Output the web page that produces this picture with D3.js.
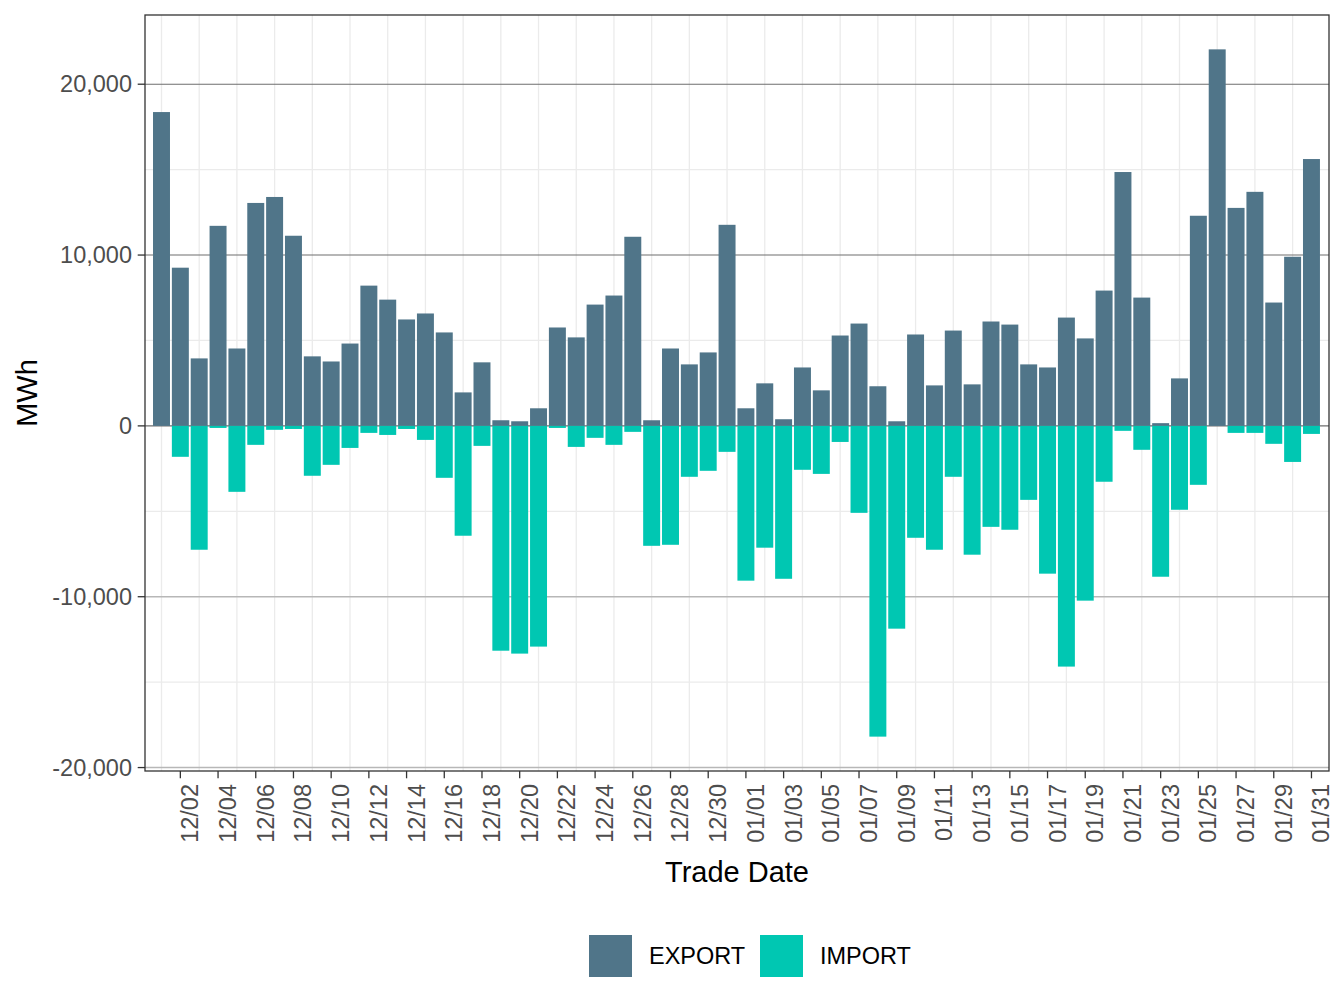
<!DOCTYPE html>
<html>
<head>
<meta charset="utf-8">
<script src="https://cdn.jsdelivr.net/npm/d3@7"></script>
<style>
  html, body { margin: 0; padding: 0; background: #ffffff; }
  svg { display: block; font-family: "Liberation Sans", Arial, Helvetica, sans-serif; }
</style>
</head>
<body>
<svg id="chart" width="1344" height="1008"></svg>
<script>
// ---- data ----
const dates = [
  "12/01","12/02","12/03","12/04","12/05","12/06","12/07","12/08","12/09","12/10",
  "12/11","12/12","12/13","12/14","12/15","12/16","12/17","12/18","12/19","12/20",
  "12/21","12/22","12/23","12/24","12/25","12/26","12/27","12/28","12/29","12/30","12/31",
  "01/01","01/02","01/03","01/04","01/05","01/06","01/07","01/08","01/09","01/10",
  "01/11","01/12","01/13","01/14","01/15","01/16","01/17","01/18","01/19","01/20",
  "01/21","01/22","01/23","01/24","01/25","01/26","01/27","01/28","01/29","01/30","01/31"
];
const exportVals = [
  18370, 9260, 3950, 11710, 4530, 13050, 13400, 11130, 4070, 3770,
  4820, 8210, 7390, 6230, 6580, 5470, 1960, 3720, 330, 270,
  1030, 5760, 5180, 7100, 7630, 11070, 330, 4530, 3600, 4300, 11770,
  1030, 2490, 390, 3420, 2080, 5290, 5990, 2320, 270, 5350,
  2370, 5580, 2430, 6110, 5930, 3600, 3420, 6340, 5120, 7920,
  14860, 7510, 160, 2780, 12300, 22040, 12760, 13700, 7220, 9900, 15620
];
const importVals = [
  0, -1810, -7250, -120, -3860, -1110, -230, -180, -2920, -2280,
  -1290, -410, -530, -180, -820, -3040, -6430, -1170, -13160, -13330,
  -12920, -120, -1230, -700, -1110, -350, -7020, -6960, -2980, -2630, -1520,
  -9060, -7130, -8950, -2570, -2810, -940, -5090, -18190, -11870, -6550,
  -7250, -2980, -7540, -5910, -6080, -4330, -8650, -14090, -10230, -3270,
  -290, -1400, -8830, -4910, -3450, 0, -410, -410, -1050, -2110, -470
];
const seriesNames = ["EXPORT", "IMPORT"];
const seriesColors = ["#507589", "#00C7B2"];
const tickLabels = [
  "12/02","12/04","12/06","12/08","12/10","12/12","12/14","12/16","12/18","12/20",
  "12/22","12/24","12/26","12/28","12/30","01/01","01/03","01/05","01/07","01/09",
  "01/11","01/13","01/15","01/17","01/19","01/21","01/23","01/25","01/27","01/29","01/31"
];
const yTicks = [-20000, -10000, 0, 10000, 20000];
const yMinor = [-15000, -5000, 5000, 15000];

// ---- layout ----
const svg = d3.select("#chart");
const panel = { left: 145, right: 1329, top: 15, bottom: 771 };

const idx = d3.range(dates.length);
const x = d3.scaleLinear()
  .domain([-0.875, dates.length - 1 + 0.93])
  .range([panel.left, panel.right]);
const barW = 0.9;

const ymin = d3.min(importVals), ymax = d3.max(exportVals);
const pad = (ymax - ymin) * 0.05;
const y = d3.scaleLinear()
  .domain([ymin - pad, ymax + pad])
  .range([panel.bottom, panel.top]);

const fmt = d => (d < 0 ? "-" : "") + d3.format(",")(Math.abs(d));

// panel background
svg.append("rect")
  .attr("x", panel.left).attr("y", panel.top)
  .attr("width", panel.right - panel.left).attr("height", panel.bottom - panel.top)
  .attr("fill", "#ffffff");

svg.append("clipPath").attr("id", "pclip").append("rect")
  .attr("x", panel.left).attr("y", panel.top)
  .attr("width", panel.right - panel.left).attr("height", panel.bottom - panel.top);

const g = svg.append("g").attr("clip-path", "url(#pclip)");

// minor horizontal grid
g.selectAll("line.hmin").data(yMinor).enter().append("line")
  .attr("x1", panel.left).attr("x2", panel.right)
  .attr("y1", d => y(d)).attr("y2", d => y(d))
  .attr("stroke", "#EBEBEB").attr("stroke-width", 1.3);

// vertical grid lines (between labelled ticks)
const vGrid = idx.filter(i => dates.indexOf(tickLabels[0]) % 2 !== i % 2);
g.selectAll("line.vgrid").data(vGrid).enter().append("line")
  .attr("x1", d => x(d)).attr("x2", d => x(d))
  .attr("y1", panel.top).attr("y2", panel.bottom)
  .attr("stroke", "#EBEBEB").attr("stroke-width", 1.3);

// major horizontal grid
g.selectAll("line.hmaj").data(yTicks).enter().append("line")
  .attr("x1", panel.left).attr("x2", panel.right)
  .attr("y1", d => y(d)).attr("y2", d => y(d))
  .attr("stroke", d => d >= 0 ? "#6E6E6E" : "#B7B7B7")
  .attr("stroke-width", d => d >= 0 ? 1.1 : 1.4);

// bars
const series = [exportVals, importVals];
series.forEach((vals, s) => {
  g.selectAll("rect.s" + s).data(idx.filter(i => vals[i] !== 0)).enter().append("rect")
    .attr("x", i => x(i - barW / 2))
    .attr("width", x(barW) - x(0))
    .attr("y", i => y(Math.max(0, vals[i])))
    .attr("height", i => Math.abs(y(vals[i]) - y(0)))
    .attr("fill", seriesColors[s]);
});

// panel border
svg.append("rect")
  .attr("x", panel.left).attr("y", panel.top)
  .attr("width", panel.right - panel.left).attr("height", panel.bottom - panel.top)
  .attr("fill", "none").attr("stroke", "#333333").attr("stroke-width", 1.3);

// y axis
const yAxis = svg.append("g");
yAxis.selectAll("line").data(yTicks).enter().append("line")
  .attr("x1", panel.left - 7.3).attr("x2", panel.left)
  .attr("y1", d => y(d)).attr("y2", d => y(d))
  .attr("stroke", "#333333").attr("stroke-width", 1.3);
yAxis.selectAll("text").data(yTicks).enter().append("text")
  .attr("x", panel.left - 13).attr("y", d => y(d))
  .attr("text-anchor", "end").attr("dominant-baseline", "central")
  .attr("font-size", 23.5).attr("fill", "#4D4D4D")
  .text(d => fmt(d));

// x axis
const xAxis = svg.append("g");
const tickIdx = tickLabels.map(l => dates.indexOf(l));
xAxis.selectAll("line").data(tickIdx).enter().append("line")
  .attr("x1", d => x(d)).attr("x2", d => x(d))
  .attr("y1", panel.bottom).attr("y2", panel.bottom + 7.3)
  .attr("stroke", "#333333").attr("stroke-width", 1.3);
xAxis.selectAll("text").data(tickIdx).enter().append("text")
  .attr("transform", d => `translate(${x(d) + 10},${panel.bottom + 13}) rotate(-90)`)
  .attr("text-anchor", "end").attr("dominant-baseline", "central")
  .attr("font-size", 23.5).attr("fill", "#4D4D4D")
  .text((d, i) => tickLabels[i]);

// axis titles
svg.append("text")
  .attr("x", (panel.left + panel.right) / 2).attr("y", 872)
  .attr("text-anchor", "middle").attr("dominant-baseline", "central")
  .attr("font-size", 29).attr("fill", "#000000")
  .text("Trade Date");
svg.append("text")
  .attr("transform", `translate(27,${(panel.top + panel.bottom) / 2}) rotate(-90)`)
  .attr("text-anchor", "middle").attr("dominant-baseline", "central")
  .attr("font-size", 29).attr("fill", "#000000")
  .text("MWh");

// legend
const legX = [589, 760];
const leg = svg.append("g");
seriesNames.forEach((name, i) => {
  leg.append("rect").attr("x", legX[i]).attr("y", 935)
    .attr("width", 43).attr("height", 42).attr("fill", seriesColors[i]);
  leg.append("text").attr("x", legX[i] + 60).attr("y", 956)
    .attr("dominant-baseline", "central").attr("font-size", 23.5).attr("fill", "#000000")
    .text(name);
});
</script>
</body>
</html>
